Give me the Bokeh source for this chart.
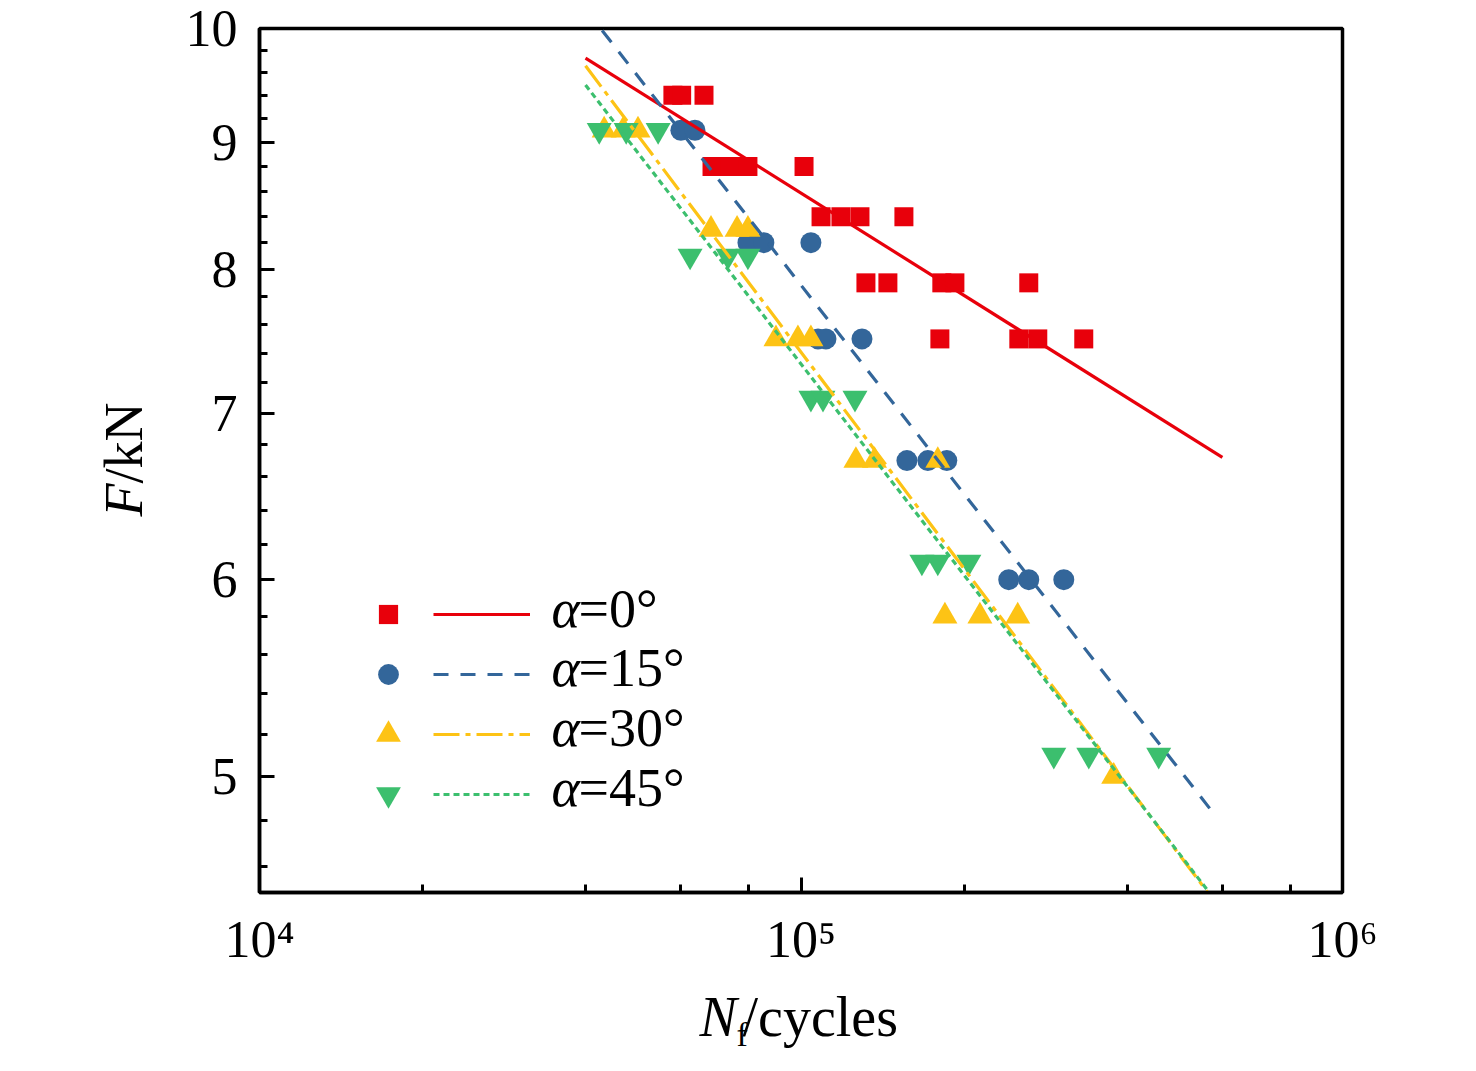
import math
from bokeh.plotting import figure
from bokeh.layouts import row, column
from bokeh.models import (Range1d, FixedTicker, PrintfTickFormatter, Label,
                          Legend, LegendItem)
from bokeh.embed import file_html
from bokeh.resources import INLINE

# ---------------- data ----------------
n_a0 = [58000, 60200, 66200, 68500, 74000, 79800, 101300, 108900, 118500,
        128500, 154900, 131800, 144700, 182000, 192400, 263400, 180500,
        252500, 273700, 332800]
f_a0 = [9.4, 9.4, 9.4, 8.8, 8.8, 8.8, 8.8, 8.4, 8.4, 8.4, 8.4, 7.9, 7.9,
        7.9, 7.9, 7.9, 7.5, 7.5, 7.5, 7.5]

n_a15 = [60000, 63700, 79800, 85400, 104300, 107500, 111200, 129600,
         156900, 171500, 185900, 241900, 263400, 305700]
f_a15 = [9.1, 9.1, 8.2, 8.2, 8.2, 7.5, 7.5, 7.5, 6.7, 6.7, 6.7, 6.0, 6.0, 6.0]

n_a30 = [43300, 46950, 50000, 68200, 76200, 79800, 89900, 98700, 104300,
         126300, 136700, 178900, 184400, 214000, 251300, 378000]
f_a30 = [9.1, 9.1, 9.1, 8.3, 8.3, 8.3, 7.5, 7.5, 7.5, 6.7, 6.7, 6.7, 5.8,
         5.8, 5.8, 5.0]

n_a45 = [42400, 47550, 54470, 62400, 73300, 79800, 104300, 109800, 125800,
         167200, 178900, 204200, 293000, 340000, 457700]
f_a45 = [9.1, 9.1, 9.1, 8.1, 8.1, 8.1, 7.1, 7.1, 7.1, 6.1, 6.1, 6.1, 5.1,
         5.1, 5.1]

# fitted lines (end points)
fit_n_a0 = [40000, 600000]
fit_f_a0 = [9.73, 6.72]
fit_n_a15 = [40000, 583000]
fit_f_a15 = [10.18, 4.82]
fit_n_a30 = [40000, 600000]
fit_f_a30 = [9.66, 4.41]
fit_n_a45 = [40000, 600000]
fit_f_a45 = [9.49, 4.42]

series_labels = ["=0°", "=15°", "=30°", "=45°"]

x_major = [1e4, 1e5, 1e6]
x_major_labels = ["10⁴", "10⁵", "10⁶"]
x_minor = [2e4, 4e4, 6e4, 8e4, 2e5, 4e5, 6e5, 8e5]
y_major = [5, 6, 7, 8, 9, 10]
y_minor = [4.6, 4.8, 5.2, 5.4, 5.6, 5.8, 6.2, 6.4, 6.6, 6.8, 7.2, 7.4, 7.6,
           7.8, 8.2, 8.4, 8.6, 8.8, 9.2, 9.4, 9.6, 9.8]

# ---------------- style ----------------
RED = "#E8000B"
BLUE = "#33669A"
YELLOW = "#FDC315"
GREEN = "#3CBF6E"
FONT = "Liberation Serif"
TXT_SHIFT = 20   # offset of the alphabetic anchor for 54px text

YW = 175          # width of the strip holding the y title
FRAME_L = 259     # frame left edge in page pixels
FRAME_T = 28      # frame top edge in page pixels
FRAME_W = 1083
FRAME_H = 864
PH = 986          # height of the main figure

p = figure(x_axis_type="log", y_axis_type="log",
           x_range=Range1d(1e4, 1e6), y_range=Range1d(4.49, 10),
           frame_width=FRAME_W, frame_height=FRAME_H,
           min_border_left=FRAME_L - YW, min_border_right=60,
           min_border_top=FRAME_T, min_border_bottom=PH - FRAME_T - FRAME_H,
           output_backend="svg", toolbar_location=None)

p.background_fill_color = "white"
p.border_fill_color = "white"
p.outline_line_color = "black"
p.outline_line_width = 3.5
p.xgrid.visible = False
p.ygrid.visible = False

p.xaxis.ticker = FixedTicker(ticks=x_major, minor_ticks=x_minor)
p.xaxis.major_label_overrides = {v: s for v, s in zip(x_major, x_major_labels)}
p.yaxis.ticker = FixedTicker(ticks=y_major, minor_ticks=y_minor)
p.yaxis.formatter = PrintfTickFormatter(format="%d")

for ax in (p.xaxis[0], p.yaxis[0]):
    ax.axis_line_width = 3.5
    ax.axis_line_color = "black"
    ax.major_tick_line_width = 3
    ax.minor_tick_line_width = 3
    ax.major_tick_line_color = "black"
    ax.minor_tick_line_color = "black"
    ax.major_tick_in = 15
    ax.major_tick_out = 0
    ax.minor_tick_in = 8
    ax.minor_tick_out = 0
    ax.major_label_text_font = FONT
    ax.major_label_text_font_size = "52px"
    ax.major_label_text_color = "black"
p.yaxis.major_label_standoff = 22
p.xaxis.major_label_standoff = 18

# ---------------- markers ----------------
r_a0 = p.scatter(n_a0, f_a0, marker="square", size=19, fill_color=RED, line_color=None)
r_a15 = p.scatter(n_a15, f_a15, marker="circle", size=21, fill_color=BLUE, line_color=None)
r_a30 = p.scatter(n_a30, f_a30, marker="triangle", size=25, fill_color=YELLOW, line_color=None)
r_a45 = p.scatter(n_a45, f_a45, marker="inverted_triangle", size=25, fill_color=GREEN, line_color=None)

# ---------------- fitted lines ----------------
l_a0 = p.line(fit_n_a0, fit_f_a0, line_color=RED, line_width=3.2)
l_a15 = p.line(fit_n_a15, fit_f_a15, line_color=BLUE, line_width=3.2, line_dash="15 12")
l_a30 = p.line(fit_n_a30, fit_f_a30, line_color=YELLOW, line_width=3.2, line_dash="26 6 5 6")
l_a45 = p.line(fit_n_a45, fit_f_a45, line_color=GREEN, line_width=3.2, line_dash="6 4")

# ---------------- legend ----------------
def plain_legend(items, loc, gw, gh, spacing=0):
    leg = Legend(items=items, location=loc, glyph_width=gw, glyph_height=gh,
                 spacing=spacing, padding=0, margin=0, label_standoff=0,
                 label_width=0, label_height=0, label_text_font_size="1px",
                 border_line_alpha=0, background_fill_alpha=0)
    p.add_layout(leg)

row_cy = [278, 218, 158, 98]        # row centres, px above frame bottom
key_cx = 129                         # marker key centre, px right of frame left
key_boxes = [48, 52, 62, 62]
for r, box, cy in zip([r_a0, r_a15, r_a30, r_a45], key_boxes, row_cy):
    plain_legend([LegendItem(label="", renderers=[r])],
                 (key_cx - box / 2, cy - box / 2), box, box)

plain_legend([LegendItem(label="", renderers=[l]) for l in [l_a0, l_a15, l_a30, l_a45]],
             (174, 78), 97, 40, spacing=20)

text_base = [264, 205, 145, 85]
for lab, yb in zip(series_labels, text_base):
    p.add_layout(Label(x=292, y=yb + TXT_SHIFT, x_units="screen", y_units="screen", text="α",
                       text_font=FONT, text_font_size="54px", text_font_style="italic",
                       text_color="black", text_baseline="alphabetic", text_align="left"))
    p.add_layout(Label(x=319, y=yb + TXT_SHIFT, x_units="screen", y_units="screen", text=lab,
                       text_font=FONT, text_font_size="54px", text_color="black",
                       text_baseline="alphabetic", text_align="left"))


def blank_fig(w, h):
    f = figure(width=w, height=h, x_range=Range1d(0, 1), y_range=Range1d(0, 1),
               min_border=0, x_axis_location=None, y_axis_location=None,
               output_backend="svg", toolbar_location=None)
    f.outline_line_color = None
    f.background_fill_color = "white"
    f.border_fill_color = "white"
    f.grid.visible = False
    return f


# ---------------- y title strip ----------------
yfig = blank_fig(YW, PH)
yfig.add_layout(Label(x=143 - TXT_SHIFT, y=PH - 516, x_units="screen", y_units="screen",
                      text="F", angle=math.pi / 2, text_font=FONT, text_font_size="54px",
                      text_font_style="italic", text_color="black",
                      text_baseline="alphabetic", text_align="left"))
yfig.add_layout(Label(x=143 - TXT_SHIFT, y=PH - 483, x_units="screen", y_units="screen",
                      text="/kN", angle=math.pi / 2, text_font=FONT, text_font_size="54px",
                      text_color="black", text_baseline="alphabetic", text_align="left"))

# ---------------- x title strip (its frame is aligned with the main frame) ----------------
XH = 80
xfig = blank_fig(FRAME_L - YW + FRAME_W + 60, XH)
xb = PH + XH       # bottom of strip in page pixels
xfig.add_layout(Label(x=699 - FRAME_L, y=xb - 1037 + 21, x_units="screen", y_units="screen",
                      text="N", text_font=FONT, text_font_size="56px", text_font_style="italic",
                      text_color="black", text_baseline="alphabetic", text_align="left"))
xfig.add_layout(Label(x=736 - FRAME_L, y=xb - 1047 + 13, x_units="screen", y_units="screen",
                      text="f", text_font=FONT, text_font_size="34px", text_color="black",
                      text_baseline="alphabetic", text_align="left"))
xfig.add_layout(Label(x=742 - FRAME_L, y=xb - 1037 + 21, x_units="screen", y_units="screen",
                      text="/cycles", text_font=FONT, text_font_size="56px", text_color="black",
                      text_baseline="alphabetic", text_align="left"))

layout = row(yfig, column(p, xfig))
open("out.html", "w").write(file_html(layout, INLINE))
